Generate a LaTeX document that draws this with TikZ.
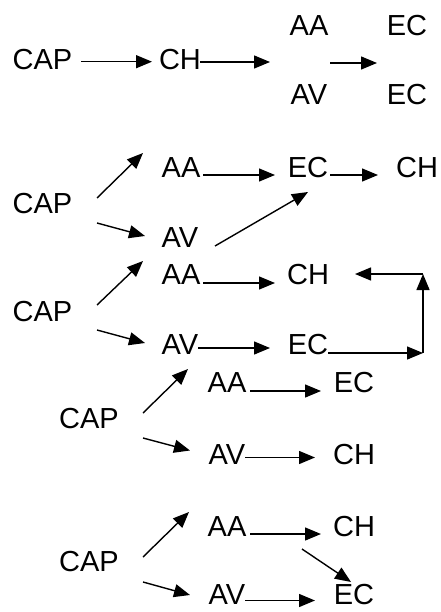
\documentclass[tikz,border=0pt]{standalone}
\usepackage{fontspec}
\setmainfont{Liberation Sans}
\usetikzlibrary{arrows.meta,calc}
\begin{document}
\begin{tikzpicture}[x=1pt,y=-1pt,
  lbl/.style={inner sep=0pt,outer sep=0pt,font=\fontsize{29}{31}\selectfont},
  arr/.style={line width=1.4pt,-{Triangle[length=16pt,width=13pt]}}]
\useasboundingbox (0,0) rectangle (440,612);
% Row 1
\node[lbl] (c1) at (42.5,59.5) {CAP};
\node[lbl] (h1) at (180,59.5) {CH};
\node[lbl] (a1) at (309,25.5) {AA};
\node[lbl] (e1) at (407,25.5) {EC};
\node[lbl] (v1) at (309,95) {AV};
\node[lbl] (e1b) at (407,95) {EC};
\coordinate (p1) at (270,62);
\coordinate (q1) at (330,63);
\coordinate (r1) at (377,63);
\draw[arr] ($(c1)+(38.5,2.2)$) -- ($(h1)+(-28,2.2)$);
\draw[arr] ($(h1)+(20,2.5)$) -- (p1);
\draw[arr] (q1) -- (r1);
% Row 2
\node[lbl] (c2) at (42.5,203.5) {CAP};
\node[lbl] (a2) at (181,168) {AA};
\node[lbl] (e2) at (308,168) {EC};
\node[lbl] (h2) at (417,168) {CH};
\node[lbl] (v2) at (180,238) {AV};
\draw[arr] ($(c2)+(54.5,-5.5)$) -- ($(a2)+(-38,-15)$);
\draw[arr] ($(c2)+(54.5,19.5)$) -- ($(v2)+(-35,-2)$);
\draw[arr] ($(a2)+(22,7)$) -- ($(e2)+(-33,7)$);
\draw[arr] ($(v2)+(35,8)$) -- ($(e2)+(0,24)$);
\draw[arr] ($(e2)+(22,7)$) -- ($(h2)+(-39,7)$);
% Row 3
\node[lbl] (c3) at (42.5,312) {CAP};
\node[lbl] (a3) at (181,275) {AA};
\node[lbl] (h3) at (308,275) {CH};
\node[lbl] (v3) at (180,345) {AV};
\node[lbl] (e3) at (308,345) {EC};
\coordinate (k1) at (423,353);
\coordinate (k2) at (423,274);
\draw[arr] ($(c3)+(54.5,-7)$) -- ($(a3)+(-38,-14)$);
\draw[arr] ($(c3)+(54.5,18)$) -- ($(v3)+(-35,-2)$);
\draw[arr] ($(a3)+(22,8)$) -- ($(h3)+(-33,8)$);
\draw[arr] ($(v3)+(18,3)$) -- ($(e3)+(-38,3)$);
\draw[arr] ($(e3)+(20,8)$) -- (k1);
\draw[arr] (k1) -- (k2);
\draw[arr] (k2) -- ($(h3)+(47,-1)$);
% Row 4
\node[lbl] (c4) at (89,419) {CAP};
\node[lbl] (a4) at (227,383) {AA};
\node[lbl] (e4) at (354,383) {EC};
\node[lbl] (v4) at (227,454.5) {AV};
\node[lbl] (h4) at (354,454.5) {CH};
\draw[arr] ($(c4)+(54,-6)$) -- ($(a4)+(-39,-14)$);
\draw[arr] ($(c4)+(54,19)$) -- ($(v4)+(-37,-4)$);
\draw[arr] ($(a4)+(23,8)$) -- ($(e4)+(-33,8)$);
\draw[arr] ($(v4)+(18,3)$) -- ($(h4)+(-39,3)$);
% Row 5
\node[lbl] (c5) at (89,562) {CAP};
\node[lbl] (a5) at (227,527) {AA};
\node[lbl] (h5) at (354,527) {CH};
\node[lbl] (v5) at (227,595) {AV};
\node[lbl] (e5) at (354,595) {EC};
\draw[arr] ($(c5)+(54,-5)$) -- ($(a5)+(-38,-15)$);
\draw[arr] ($(c5)+(54,20)$) -- ($(v5)+(-37,0)$);
\draw[arr] ($(a5)+(23,7)$) -- ($(h5)+(-33,7)$);
\draw[arr] ($(v5)+(18,5.5)$) -- ($(e5)+(-39,5.5)$);
\draw[arr] ($(a5)+(75,22)$) -- ($(e5)+(-3,-13)$);
\end{tikzpicture}
\end{document}
